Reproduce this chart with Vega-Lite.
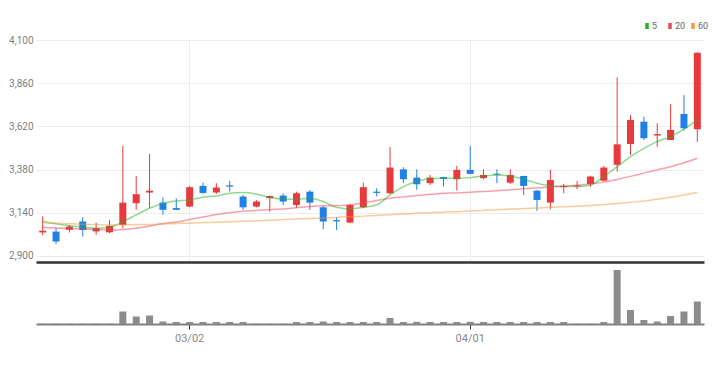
{
  "$schema": "https://vega.github.io/schema/vega-lite/v6.json",
  "padding": {"left": 8, "top": 21, "right": 5, "bottom": 5},
  "background": "white",
  "config": {
    "view": {"stroke": null},
    "font": "Liberation Sans Narrow, Roboto, sans-serif",
    "axis": {"labelFont": "Liberation Sans Narrow, Roboto, sans-serif"},
    "legend": {"labelFont": "Liberation Sans Narrow, Roboto, sans-serif"}
  },
  "data": {"values": [
    {"d":"02/14","o":3030,"h":3120,"l":3015,"c":3040,"v":30000,"m5":3093,"m20":3059,"m60":3085},
    {"d":"02/15","o":3035,"h":3055,"l":2965,"c":2980,"v":30000,"m5":3078,"m20":3055,"m60":3082},
    {"d":"02/16","o":3045,"h":3072,"l":3030,"c":3063,"v":30000,"m5":3067,"m20":3052,"m60":3078},
    {"d":"02/17","o":3091,"h":3115,"l":3007,"c":3044,"v":30000,"m5":3059,"m20":3049,"m60":3076},
    {"d":"02/18","o":3036,"h":3085,"l":3017,"c":3054,"v":30000,"m5":3054,"m20":3046,"m60":3074},
    {"d":"02/21","o":3031,"h":3100,"l":3026,"c":3067,"v":30000,"m5":3058,"m20":3044,"m60":3072},
    {"d":"02/22","o":3072,"h":3511,"l":3054,"c":3196,"v":1250000,"m5":3090,"m20":3047,"m60":3073},
    {"d":"02/23","o":3193,"h":3344,"l":3156,"c":3243,"v":750000,"m5":3128,"m20":3054,"m60":3074},
    {"d":"02/24","o":3252,"h":3467,"l":3165,"c":3262,"v":850000,"m5":3165,"m20":3066,"m60":3075},
    {"d":"02/25","o":3196,"h":3226,"l":3128,"c":3156,"v":250000,"m5":3192,"m20":3080,"m60":3077},
    {"d":"02/28","o":3166,"h":3220,"l":3155,"c":3156,"v":200000,"m5":3205,"m20":3088,"m60":3080},
    {"d":"03/02","o":3174,"h":3288,"l":3170,"c":3282,"v":200000,"m5":3211,"m20":3102,"m60":3082},
    {"d":"03/03","o":3289,"h":3307,"l":3244,"c":3250,"v":200000,"m5":3226,"m20":3116,"m60":3085},
    {"d":"03/04","o":3252,"h":3304,"l":3244,"c":3280,"v":200000,"m5":3233,"m20":3130,"m60":3087},
    {"d":"03/07","o":3292,"h":3318,"l":3257,"c":3285,"v":200000,"m5":3248,"m20":3140,"m60":3090},
    {"d":"03/08","o":3230,"h":3240,"l":3156,"c":3170,"v":200000,"m5":3252,"m20":3148,"m60":3092},
    {"d":"03/10","o":3174,"h":3210,"l":3170,"c":3202,"v":30000,"m5":3243,"m20":3152,"m60":3095},
    {"d":"03/11","o":3221,"h":3236,"l":3146,"c":3233,"v":30000,"m5":3226,"m20":3157,"m60":3098},
    {"d":"03/14","o":3235,"h":3248,"l":3183,"c":3202,"v":30000,"m5":3215,"m20":3161,"m60":3102},
    {"d":"03/15","o":3183,"h":3257,"l":3168,"c":3248,"v":200000,"m5":3215,"m20":3168,"m60":3105},
    {"d":"03/16","o":3257,"h":3267,"l":3156,"c":3196,"v":200000,"m5":3220,"m20":3174,"m60":3108},
    {"d":"03/17","o":3170,"h":3178,"l":3048,"c":3091,"v":250000,"m5":3202,"m20":3178,"m60":3111},
    {"d":"03/18","o":3099,"h":3115,"l":3044,"c":3092,"v":200000,"m5":3170,"m20":3180,"m60":3114},
    {"d":"03/21","o":3085,"h":3190,"l":3082,"c":3183,"v":200000,"m5":3161,"m20":3183,"m60":3117},
    {"d":"03/22","o":3170,"h":3307,"l":3165,"c":3282,"v":200000,"m5":3170,"m20":3195,"m60":3121},
    {"d":"03/23","o":3257,"h":3276,"l":3230,"c":3250,"v":200000,"m5":3183,"m20":3208,"m60":3125},
    {"d":"03/24","o":3248,"h":3504,"l":3243,"c":3391,"v":600000,"m5":3239,"m20":3220,"m60":3129},
    {"d":"03/25","o":3381,"h":3393,"l":3304,"c":3326,"v":200000,"m5":3285,"m20":3228,"m60":3133},
    {"d":"03/28","o":3335,"h":3381,"l":3267,"c":3298,"v":220000,"m5":3313,"m20":3236,"m60":3137},
    {"d":"03/29","o":3304,"h":3350,"l":3294,"c":3335,"v":200000,"m5":3330,"m20":3242,"m60":3140},
    {"d":"03/30","o":3338,"h":3340,"l":3285,"c":3328,"v":200000,"m5":3331,"m20":3248,"m60":3143},
    {"d":"03/31","o":3326,"h":3400,"l":3263,"c":3378,"v":200000,"m5":3331,"m20":3250,"m60":3146},
    {"d":"04/01","o":3378,"h":3511,"l":3354,"c":3356,"v":220000,"m5":3335,"m20":3254,"m60":3150},
    {"d":"04/04","o":3332,"h":3381,"l":3326,"c":3350,"v":200000,"m5":3344,"m20":3258,"m60":3153},
    {"d":"04/05","o":3357,"h":3381,"l":3304,"c":3351,"v":200000,"m5":3350,"m20":3262,"m60":3156},
    {"d":"04/06","o":3307,"h":3381,"l":3300,"c":3350,"v":200000,"m5":3344,"m20":3268,"m60":3160},
    {"d":"04/07","o":3344,"h":3346,"l":3239,"c":3289,"v":200000,"m5":3326,"m20":3273,"m60":3163},
    {"d":"04/08","o":3263,"h":3265,"l":3150,"c":3211,"v":200000,"m5":3304,"m20":3278,"m60":3166},
    {"d":"04/11","o":3196,"h":3378,"l":3159,"c":3322,"v":200000,"m5":3289,"m20":3283,"m60":3170},
    {"d":"04/12","o":3282,"h":3300,"l":3248,"c":3288,"v":200000,"m5":3285,"m20":3288,"m60":3173},
    {"d":"04/13","o":3286,"h":3317,"l":3270,"c":3292,"v":30000,"m5":3285,"m20":3293,"m60":3176},
    {"d":"04/14","o":3300,"h":3346,"l":3283,"c":3341,"v":30000,"m5":3294,"m20":3300,"m60":3180},
    {"d":"04/15","o":3318,"h":3400,"l":3313,"c":3391,"v":200000,"m5":3341,"m20":3310,"m60":3185},
    {"d":"04/18","o":3406,"h":3893,"l":3369,"c":3520,"v":5400000,"m5":3396,"m20":3325,"m60":3191},
    {"d":"04/19","o":3522,"h":3683,"l":3461,"c":3656,"v":1400000,"m5":3452,"m20":3342,"m60":3198},
    {"d":"04/20","o":3646,"h":3674,"l":3544,"c":3554,"v":400000,"m5":3498,"m20":3360,"m60":3205},
    {"d":"04/21","o":3569,"h":3637,"l":3507,"c":3577,"v":250000,"m5":3535,"m20":3378,"m60":3215},
    {"d":"04/22","o":3544,"h":3743,"l":3544,"c":3600,"v":800000,"m5":3563,"m20":3396,"m60":3226},
    {"d":"04/25","o":3689,"h":3794,"l":3596,"c":3609,"v":1250000,"m5":3604,"m20":3418,"m60":3238},
    {"d":"04/26","o":3604,"h":4032,"l":3535,"c":4029,"v":2250000,"m5":3656,"m20":3443,"m60":3252}
  ]},
  "vconcat": [
    {
      "width": 668,
      "height": 222,
      "encoding": {
        "x": {
          "field": "d", "type": "ordinal", "sort": null,
          "scale": {"paddingInner": 0, "paddingOuter": 0},
          "axis": {"values": ["03/02", "04/01"], "labels": false, "ticks": false, "domain": true,
                   "domainColor": "#333333", "domainWidth": 2.5, "grid": true, "gridColor": "#ececec",
                   "bandPosition": 0.5, "title": null}
        }
      },
      "layer": [
        {
          "mark": {"type": "rule", "strokeWidth": 1},
          "encoding": {
            "y": {"field": "l", "type": "quantitative",
                  "scale": {"domain": [2866, 4100], "nice": false, "zero": false},
                  "axis": {"values": [2900, 3140, 3380, 3620, 3860, 4100], "format": ",d", "title": null,
                           "domain": false, "ticks": false, "gridColor": "#ececec", "labelColor": "#808080",
                           "labelFontSize": 10, "labelPadding": 3}},
            "y2": {"field": "h"},
            "color": {"condition": {"test": "datum.c >= datum.o", "value": "#e8393c"}, "value": "#1f80e6"}
          }
        },
        {
          "mark": {"type": "bar", "size": 7},
          "encoding": {
            "y": {"field": "o", "type": "quantitative"},
            "y2": {"field": "c"},
            "color": {"condition": {"test": "datum.c >= datum.o", "value": "#e8393c"}, "value": "#1f80e6"}
          }
        },
        {
          "transform": [{"fold": ["m5", "m20", "m60"], "as": ["ma", "val"]}],
          "mark": {"type": "line", "strokeWidth": 1.5, "opacity": 0.5, "interpolate": "monotone"},
          "encoding": {
            "y": {"field": "val", "type": "quantitative"},
            "color": {
              "field": "ma", "type": "nominal",
              "scale": {"domain": ["m5", "m20", "m60"], "range": ["#22b422", "#ee4455", "#f39a38"]},
              "legend": {
                "orient": "none", "legendX": 606, "legendY": -19, "direction": "horizontal",
                "title": null, "padding": 0, "gridAlign": "all",
                "labelExpr": "datum.value == 'm5' ? '5' : datum.value == 'm20' ? '20' : '60'",
                "symbolType": "M0,-1V1", "symbolSize": 36, "symbolStrokeWidth": 3.5, "symbolOpacity": 1,
                "labelFontSize": 9, "labelColor": "#666666", "labelOffset": 0, "columnPadding": 0
              }
            }
          }
        }
      ]
    },
    {
      "width": 668,
      "height": 58,
      "mark": {"type": "bar", "size": 7, "color": "#8c8c8c"},
      "encoding": {
        "x": {
          "field": "d", "type": "ordinal", "sort": null,
          "scale": {"paddingInner": 0, "paddingOuter": 0},
          "axis": {"values": ["03/02", "04/01"], "title": null, "labelAngle": 0, "labelFontSize": 11,
                   "labelColor": "#888888", "tickColor": "#333333", "tickSize": 5, "domainColor": "#808080",
                   "domainWidth": 2, "grid": false, "bandPosition": 0.5, "labelPadding": 3}
        },
        "y": {"field": "v", "type": "quantitative", "scale": {"domain": [0, 5800000], "nice": false},
              "axis": {"labels": false, "ticks": false, "domain": false, "grid": false, "title": null}}
      }
    }
  ],
  "spacing": 4,
  "bounds": "flush"
}
